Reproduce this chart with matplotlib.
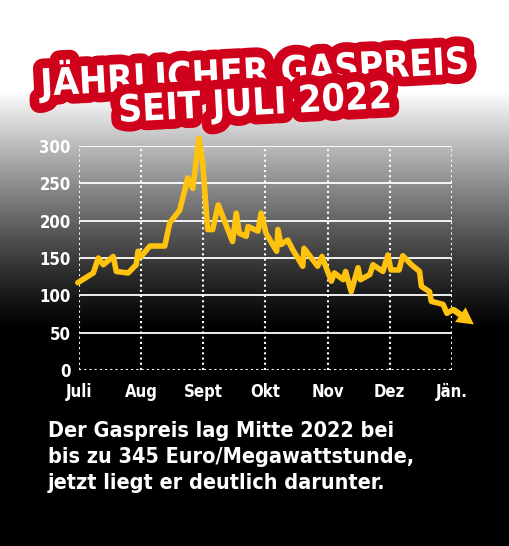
import numpy as np
import matplotlib.pyplot as plt
import matplotlib.patheffects as pe

months = ["Juli", "Aug", "Sept", "Okt", "Nov", "Dez", "Jän."]
yticks = [0, 50, 100, 150, 200, 250, 300]

# position in months since start of July, price in Euro/MWh
t = [-0.02, 0.23, 0.31, 0.39, 0.55, 0.6, 0.79, 0.92, 0.95, 1.0, 1.14, 1.38, 1.46, 1.62,
     1.75, 1.83, 1.93, 1.99, 2.07, 2.15, 2.24, 2.47, 2.53, 2.58, 2.69, 2.72, 2.88, 2.93,
     3.01, 3.18, 3.2, 3.25, 3.36, 3.44, 3.6, 3.62, 3.84, 3.91, 4.06, 4.11, 4.25, 4.29,
     4.38, 4.49, 4.53, 4.68, 4.73, 4.89, 4.97, 5.02, 5.15, 5.21, 5.35, 5.48, 5.51, 5.64,
     5.67, 5.86, 5.92, 6.02]
price = [117, 130, 150, 141, 152, 132, 130, 141, 159, 152, 166, 166, 197, 214,
         257, 243, 310, 277, 188, 188, 221, 172, 210, 183, 179, 192, 186, 210,
         183, 159, 188, 168, 174, 161, 139, 163, 139, 152, 119, 130, 121, 132,
         105, 137, 121, 128, 141, 132, 154, 134, 134, 153, 141, 132, 112, 105,
         92, 88, 76, 81]
arrow_end = (6.39, 59)

yellow = "#FFC20E"
fig = plt.figure(figsize=(5.1, 5.46), dpi=100)

# background gradient white -> black
bg = fig.add_axes([0, 0, 1, 1])
rows = np.arange(546)
g = (np.clip(1 - (rows - 90) / 240, 0, 1) ** 1.2)[:, None]
bg.imshow(g, aspect="auto", cmap="gray", vmin=0, vmax=1, extent=[0, 1, 0, 1], origin="upper")
bg.axis("off")

ax = fig.add_axes([0.155, 0.322, 0.731, 0.411])
ax.patch.set_alpha(0)
ax.set_xlim(0, 6)
ax.set_ylim(0, 300)
for v in yticks[1:]:
    ax.axhline(v, color="white", lw=1.3, zorder=1)
ax.axhline(0, color="white", lw=1.5, ls=(0, (1, 1.5)), zorder=1)
for m in range(7):
    ax.axvline(m, color="white", lw=1.5, ls=(0, (1, 1.5)), zorder=1)
for s in ax.spines.values():
    s.set_visible(False)

ax.plot(t, price, color=yellow, lw=4, solid_joinstyle="round", solid_capstyle="round",
        clip_on=False, zorder=3)
ax.annotate("", xy=arrow_end, xytext=(t[-1] - 0.03, price[-1] + 2),
            arrowprops=dict(arrowstyle="simple,head_length=1.2,head_width=1.3,tail_width=0.45",
                            color=yellow, lw=0), annotation_clip=False, zorder=3)

font = dict(family="DejaVu Sans", stretch="condensed", weight="bold", color="white")
ax.set_xticks(range(7))
ax.set_xticklabels(months, fontsize=12, **font)
ax.set_yticks(yticks)
ax.set_yticklabels([str(v) for v in yticks], fontsize=12, **font)
ax.tick_params(axis="x", length=0, pad=9)
ax.tick_params(axis="y", length=0, pad=6)

# title
stroke = [pe.withStroke(linewidth=14, foreground="#d0021b")]
fig.text(0.5, 0.87, "JÄHRLICHER GASPREIS", ha="center", va="center", rotation=3,
         fontsize=27, weight="heavy", color="white", family="DejaVu Sans",
         stretch="condensed", path_effects=stroke)
fig.text(0.5, 0.808, "SEIT JULI 2022", ha="center", va="center", rotation=3,
         fontsize=27, weight="heavy", color="white", family="DejaVu Sans",
         stretch="condensed", path_effects=stroke)

fig.text(0.094, 0.163, "Der Gaspreis lag Mitte 2022 bei\nbis zu 345 Euro/Megawattstunde,\njetzt liegt er deutlich darunter.",
         ha="left", va="center", fontsize=15.5, weight="bold", color="white",
         family="DejaVu Sans", stretch="condensed", linespacing=1.35)

fig.savefig("out.png", dpi=100)
